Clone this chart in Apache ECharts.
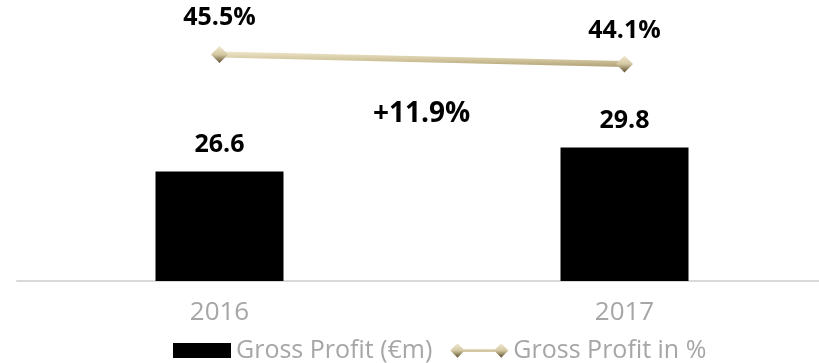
<!DOCTYPE html>
<html>
<head>
<meta charset="utf-8">
<script src="https://cdn.jsdelivr.net/npm/echarts@6/dist/echarts.min.js"></script>
<style>
  html, body { margin: 0; padding: 0; background: #ffffff; overflow: hidden; }
  /* the plot runs a few pixels past the right edge of the window */
  #chart { width: 827px; height: 363px; }
</style>
</head>
<body>
<div id="chart"></div>
<script>
// Gross profit, 2016 vs 2017
const years = ['2016', '2017'];
const grossProfit = [26.6, 29.8];          // € millions
const grossProfitPct = [45.5, 44.1];       // % of revenue
const growthLabel = '+11.9%';
const seriesNames = ['Gross Profit (€m)', 'Gross Profit in %'];

const gold = (light, dark) => ({
  type: 'linear', x: 0, y: 0, x2: 0, y2: 1,
  colorStops: [
    { offset: 0, color: light },
    { offset: 0.5, color: '#d4c8a1' },
    { offset: 1, color: dark }
  ]
});

// legend glyph: line with a diamond at each end
const lineIcon = 'path://M0 8L8 0L16 8L8 16Z M8 6.5L57 6.5L57 9.5L8 9.5Z M49 8L57 0L65 8L57 16Z';

// percentage labels sit a little closer to the second point
const pctLabelDistance = [16, 12];

const chart = echarts.init(document.getElementById('chart'), null, { renderer: 'canvas' });

chart.setOption({
  animation: false,
  backgroundColor: '#ffffff',
  grid: { left: 17, right: 0, top: 11, bottom: 82 },
  xAxis: {
    type: 'category',
    data: years,
    axisTick: { show: false },
    axisLine: { lineStyle: { color: '#d9d9d9', width: 2 } },
    axisLabel: {
      color: '#a6a6a6',
      fontFamily: 'Open Sans',
      fontSize: 26,
      margin: 19
    }
  },
  yAxis: [
    { type: 'value', min: 12, max: 48, show: false, splitLine: { show: false } },
    { type: 'value', min: 12.2, max: 51.9, show: false, splitLine: { show: false } }
  ],
  legend: {
    left: 168,
    top: 333,
    itemWidth: 58,
    itemHeight: 15,
    itemGap: 18,
    textStyle: { color: '#a6a6a6', fontFamily: 'Open Sans', fontSize: 25 },
    data: [
      { name: seriesNames[0], icon: 'rect', itemStyle: { color: '#000000' } },
      { name: seriesNames[1], icon: lineIcon }
    ]
  },
  graphic: [{
    type: 'text',
    left: 373,
    top: 100,
    style: {
      text: growthLabel,
      fill: '#000000',
      font: 'bold 28px "Open Sans"'
    }
  }],
  series: [
    {
      name: seriesNames[0],
      type: 'bar',
      data: grossProfit,
      barWidth: 128,
      itemStyle: { color: '#000000' },
      label: {
        show: true,
        position: 'top',
        distance: 14,
        color: '#000000',
        fontFamily: 'Open Sans',
        fontWeight: 'bold',
        fontSize: 25
      }
    },
    {
      name: seriesNames[1],
      type: 'line',
      yAxisIndex: 1,
      data: grossProfitPct.map((v, i) => ({ value: v, label: { distance: pctLabelDistance[i] } })),
      symbol: 'diamond',
      symbolSize: 17,
      lineStyle: { width: 6, color: gold('#eee6cb', '#b0a075') },
      itemStyle: { color: gold('#f1ead2', '#5e5032') },
      label: {
        show: true,
        position: 'top',
        color: '#000000',
        fontFamily: 'Open Sans',
        fontWeight: 'bold',
        fontSize: 25,
        formatter: p => p.value.toFixed(1) + '%'
      }
    }
  ]
});
</script>
</body>
</html>
